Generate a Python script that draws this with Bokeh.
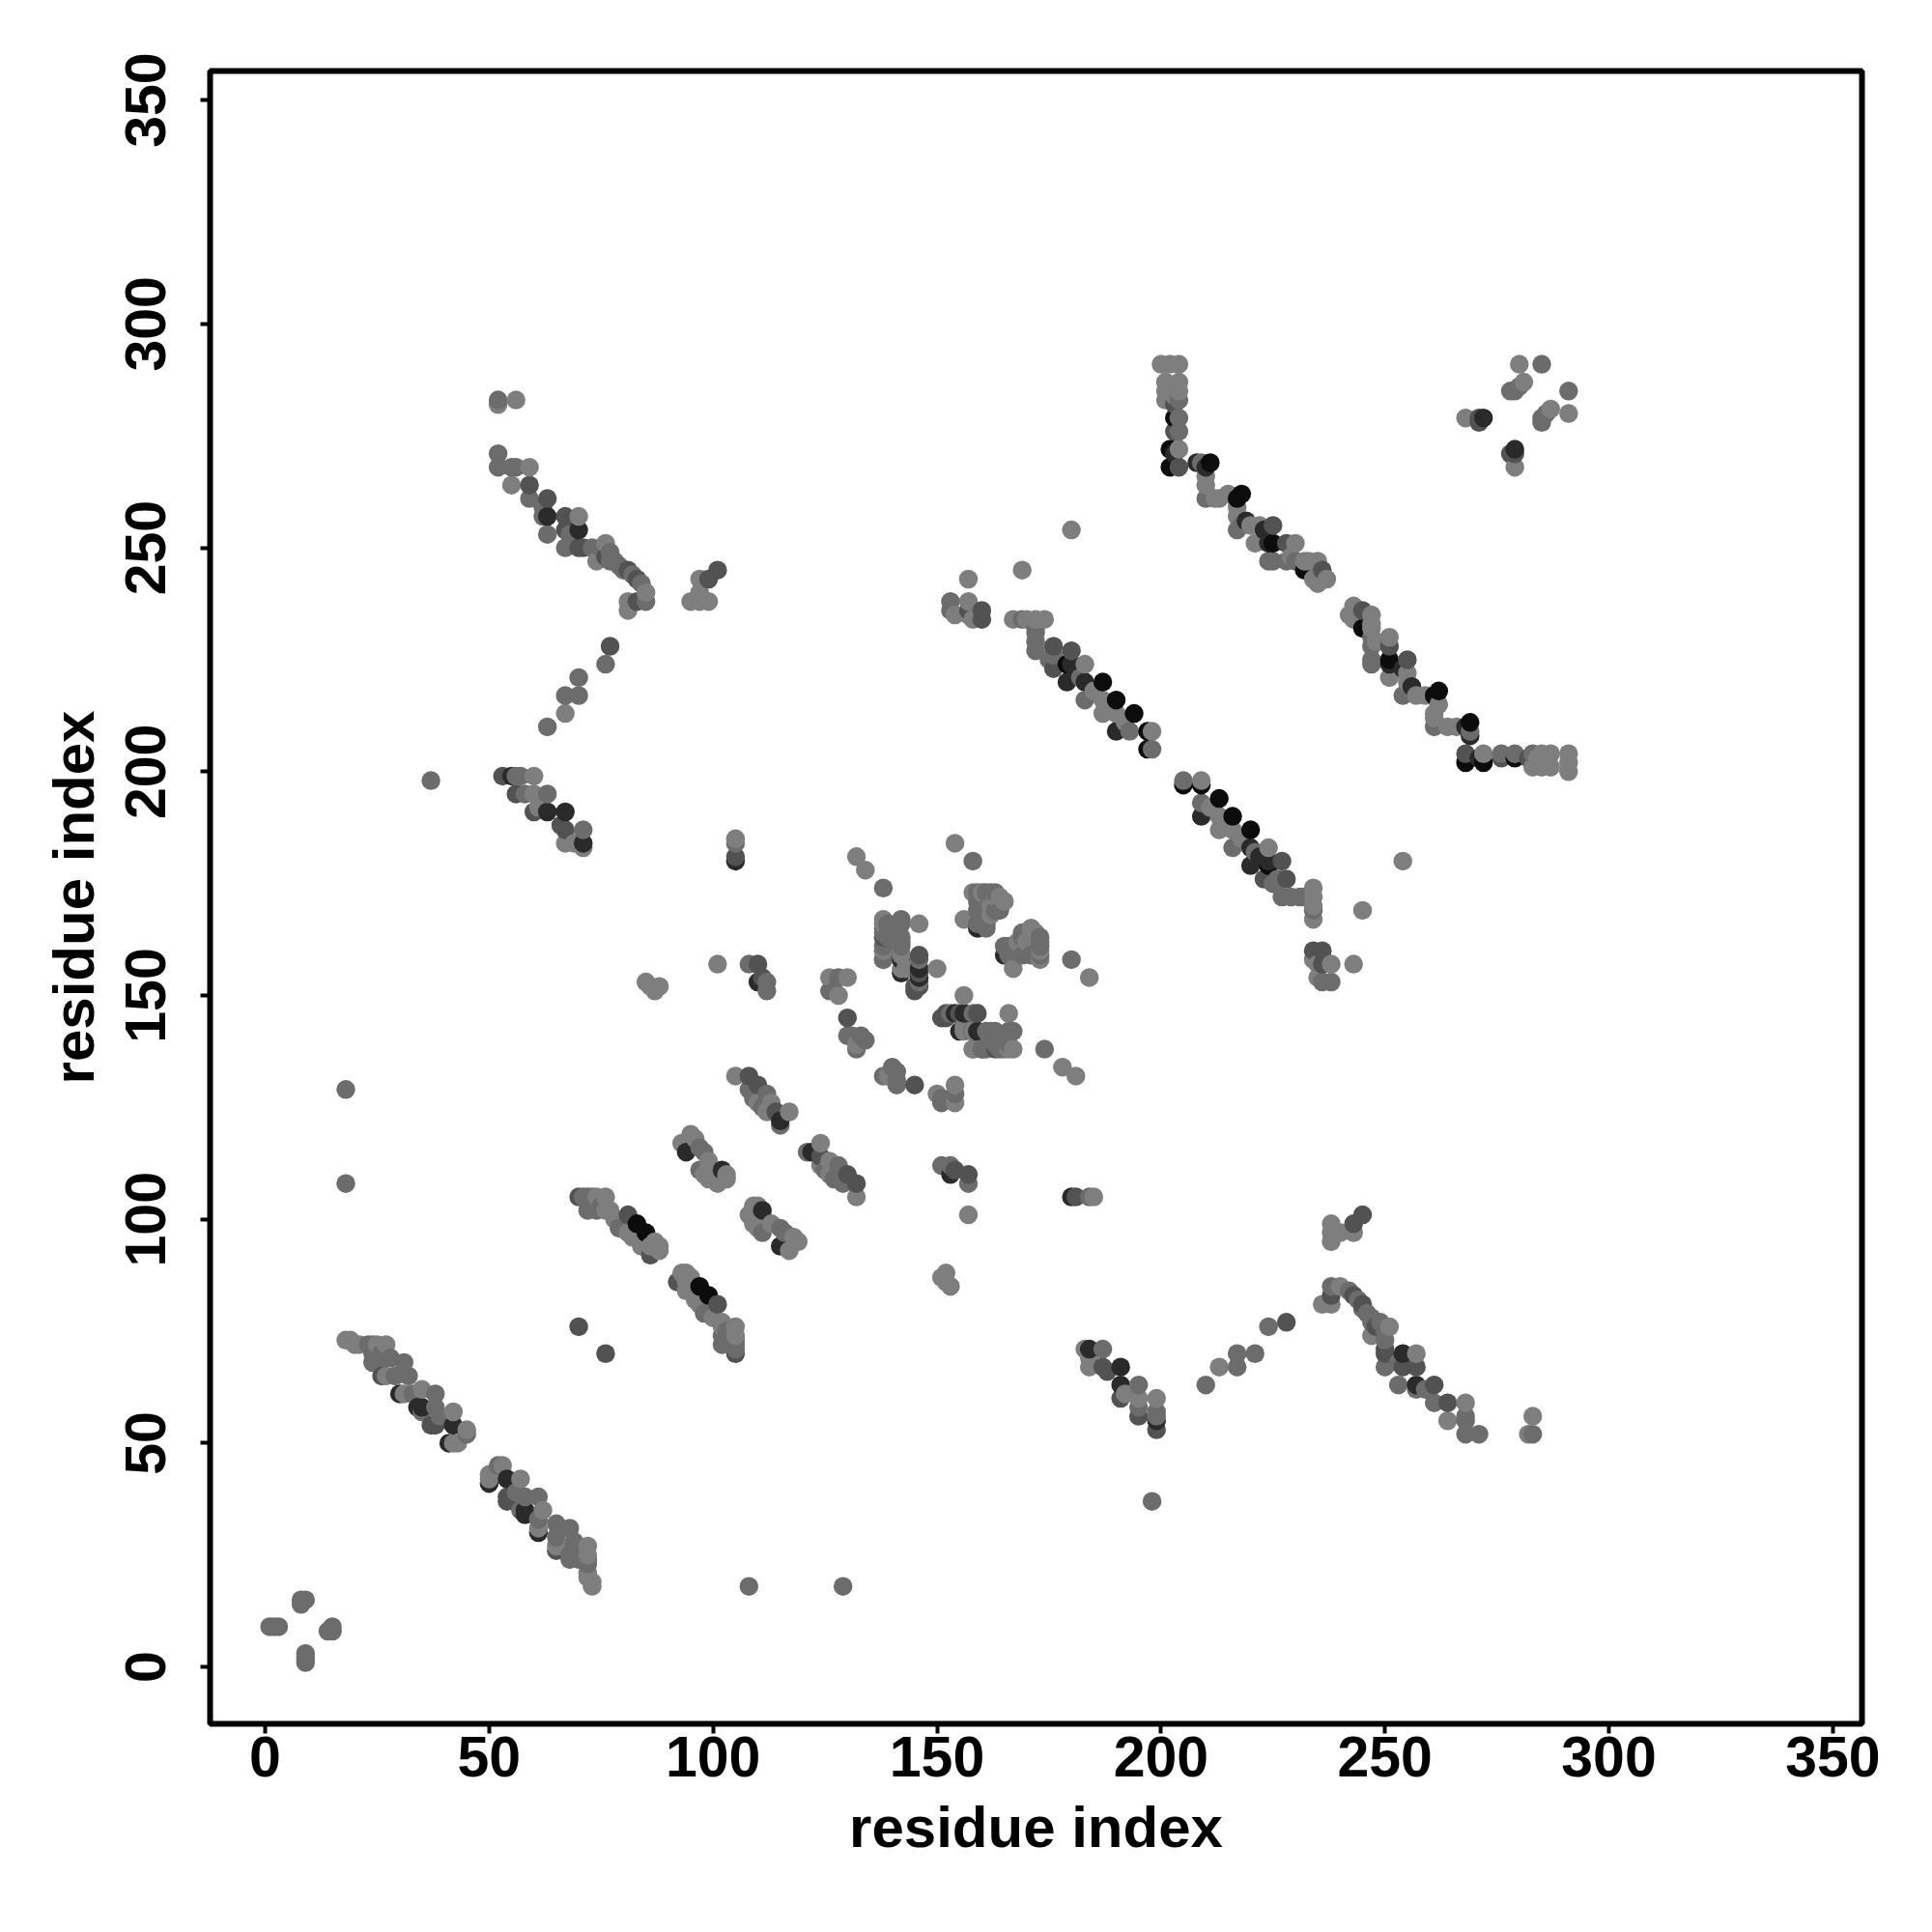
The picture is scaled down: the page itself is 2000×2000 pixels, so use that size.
from bokeh.plotting import figure
from bokeh.embed import file_html
from bokeh.resources import INLINE
from bokeh.models import FixedTicker

# shade of each contact (grey level)
L, M, D, K, B = 126, 108, 82, 42, 12

# contacts above the diagonal as (residue i, residue j, grey level)
cross_corner = [(1,9,M),(2,9,M),(3,9,M),(8,14,M),(8,15,M),(9,15,M),
                (268,279,L),(271,278,D),(271,279,D),(272,279,K),(278,285,M),(279,285,M),(280,286,M),(281,287,L),
                (280,291,L),(285,291,M)]
sheet_18_73 = [(18,73,L),(19,73,L),(20,72,L),(21,72,L),(23,72,M),(24,72,M),(25,72,L),(27,72,L),
               (24,70,M),(26,70,M),(24,68,M),(25,68,M),(27,69,M),(28,69,M),(31,68,M),(26,65,D),(27,65,L),(29,65,M),
               (32,65,M),(30,61,K),(31,61,L),(33,61,M),(35,62,L),(38,61,M),(34,58,K),(35,57,M),(35,58,K),
               (37,54,D),(38,58,M),(38,54,D),(39,56,M),(42,57,L),(42,54,K),(45,53,L),(45,52,M),(41,50,K),(42,50,L),(43,50,L)]
sheet_52_85 = [(52,282,L),(52,283,M),(56,283,L),(52,271,M),(52,268,M),(55,268,M),(56,268,M),(59,268,L),
               (55,264,L),(59,264,D),(59,261,M),(63,261,D),(62,259,M),(62,257,M),(63,257,K),(67,257,D),(70,257,L),
               (63,253,M),(67,254,D),(68,253,M),(70,254,K),(67,250,M),(70,250,D),(71,250,D),(73,250,M),(75,250,M),
               (76,251,L),(77,249,M),(74,247,L),(76,248,D),(77,247,M),(78,247,M),(79,246,M),(80,245,M),(81,245,D),
               (82,244,M),(83,243,D),(84,242,M),(85,240,L),(85,238,M),(83,238,D),(81,238,L),(81,236,L)]
patch_95_101 = [(95,238,L),(97,238,L),(99,238,L),(97,240,L),(97,243,L),(99,243,D),(101,245,D)]
strand_63_77 = [(63,210,M),(67,213,L),(67,217,M),(70,217,M),(70,221,M),(76,224,M),(77,228,D)]
sheet_53_71 = [(53,199,D),(55,199,K),(56,199,M),(57,199,M),(60,199,L),(56,195,D),(58,195,M),(60,195,L),(63,195,M),
               (60,191,D),(61,192,L),(63,191,K),(67,191,K),(66,188,D),(67,187,D),(71,187,M),(67,184,L),(69,184,L),
               (71,184,K),(71,183,L)]
isolated = [(18,108,M),(18,129,M),(37,198,M),(70,76,D),(76,70,D),(105,180,K),(105,181,D),(105,184,M),(105,185,L),
            (132,181,L),(134,178,L),(138,174,M),(154,184,L),(158,180,M),(169,245,L),(180,254,L)]
sheet_70_105 = [(70,105,D),(71,105,M),(72,105,M),(73,105,M),(74,105,L),(76,105,L),(72,102,M),(74,102,M),(75,103,M),
                (76,102,L),(77,102,L),(78,100,L),(79,98,M),(81,101,D),(81,97,L),(83,99,B),(82,96,L),
                (85,97,B),(84,94,L),(86,92,D),(86,94,L),(87,95,L),(88,94,L),(88,93,L)]
sheet_93_119 = [(93,117,L),(95,119,L),(96,118,L),(94,115,K),(97,116,M),(98,115,M),(99,113,L),(97,111,M),
                (98,110,L),(99,110,L),(99,109,L),(100,109,L),(101,108,L),(102,111,K),(103,110,L),(103,109,L)]
sheet_105_132 = [(105,132,L),(108,132,D),(110,130,D),(108,129,M),(109,127,M),(110,126,L),(111,125,M),(112,128,M),
                 (112,124,L),(113,126,L),(114,124,D),(115,122,K),(115,121,M),(117,124,L)]
patch_85_112 = [(85,153,L),(86,152,L),(87,151,L),(88,152,L),(101,157,L),(108,157,M),(110,157,D),(110,153,K),
                (111,154,D),(112,153,M),(112,151,M)]
cluster_126 = [(126,154,L),(128,154,M),(130,154,L),(126,151,M),(128,150,L),(127,151,M),(130,145,D),(130,141,M),
               (131,141,M),(133,141,M),(134,140,M),(132,138,M),(139,132,L)]
cluster_138 = [(138,167,L),(139,166,M),(142,167,M),(146,166,L),(138,165,M),(138,164,M),(139,163,M),(142,162,M),(142,163,M),
               (138,161,M),(138,160,M),(138,158,M),(142,158,K),(142,159,L),(146,159,D),(150,156,L),(146,156,K),
               (142,155,K),(143,156,L),(146,152,D),(145,151,D),(146,153,M),(151,145,D),(152,145,D),(155,146,D),(154,146,K),
               (156,150,L),(158,146,M),(155,142,K),(156,142,L),(158,142,L),(159,142,K),(161,142,M),
               (158,138,L),(160,138,L),(161,138,M),(163,138,D),(164,139,M),(165,138,M),(166,138,L),(166,142,M),(166,146,L)]
cluster_155 = [(156,167,L),(158,173,L),(159,173,M),(160,173,L),(161,173,M),(162,173,M),(163,172,L),(164,172,L),(165,171,M),
               (159,171,M),(160,170,M),(162,170,L),(163,169,M),(159,169,M),(160,168,M),(161,167,M),(159,166,M),(159,165,K),
               (161,165,M),(165,159,K),(166,161,M),(167,156,L),(167,160,M),(168,162,L),(169,164,M),(169,159,M),(170,160,M),
               (171,165,L),(172,164,L),(173,163,M),(173,162,M),(173,158,L)]
patch_153_160 = [(153,238,M),(153,236,M),(154,235,L),(157,243,L),(157,238,L),(157,235,L),(158,234,L),(157,236,D),
                 (160,236,D),(160,234,D)]
sheet_167_199 = [(167,234,L),(169,234,M),(170,234,L),(172,234,L),(174,234,L),(172,232,M),(172,231,M),(172,229,M),(172,227,M),
                 (176,228,D),(175,225,M),(176,223,D),(176,226,M),(179,224,B),(179,220,K),(180,227,D),(180,224,K),(183,224,L),
                 (181,222,K),(182,221,M),(183,220,K),(183,216,M),(185,218,L),(187,220,B),(187,216,L),(187,213,L),
                 (190,216,B),(190,213,L),(190,209,K),(192,211,L),(193,209,M),(194,213,B),(197,209,B),(197,205,B),(198,209,L),(198,205,M)]
sheet_200_237 = [(200,291,L),(202,291,L),(204,291,L),(201,287,L),(201,285,L),(201,283,L),(202,286,L),(203,284,L),(204,287,L),(204,285,L),
                 (203,282,D),(204,283,M),(203,279,B),(204,279,M),(203,276,D),(204,276,M),(202,272,B),(203,271,K),(204,272,L),(202,268,B),(204,268,D),
                 (208,269,K),(209,269,M),(210,268,K),(211,269,B),(210,266,L),(210,264,L),(210,261,M),(212,261,L),(213,261,L),
                 (215,262,L),(217,261,B),(218,262,B),(217,259,L),(217,257,L),(217,254,M),(218,255,M),(220,255,L),(219,256,K),
                 (221,251,L),(222,255,L),(223,254,K),(225,255,D),(224,251,K),(225,251,B),(224,247,M),(225,247,M),(228,251,D),
                 (230,251,L),(228,247,M),(229,248,L),(230,247,M),(232,245,B),(232,247,L),(233,247,L),(235,247,L),(236,245,D),
                 (234,243,L),(235,242,L),(236,243,L),(237,243,L)]

# every contact appears on both sides of the diagonal
contacts = (cross_corner + sheet_18_73 + sheet_52_85 + patch_95_101 + strand_63_77 + sheet_53_71 + isolated +
            sheet_70_105 + sheet_93_119 + sheet_105_132 + patch_85_112 + cluster_126 + cluster_138 + cluster_155 +
            patch_153_160 + sheet_167_199 + sheet_200_237)
both = sorted(set(contacts + [(j, i, g) for i, j, g in contacts]), key=lambda c: (c[0], c[1]))
xs = [c[0] for c in both]
ys = [c[1] for c in both]
colors = ["#%02x%02x%02x" % (c[2], c[2], c[2]) for c in both]

tick_values = [0, 50, 100, 150, 200, 250, 300, 350]

p = figure(frame_width=1710, frame_height=1711, x_range=(-12.3, 356.5), y_range=(-12.7, 356.5),
           output_backend="svg", toolbar_location=None,
           min_border_left=217, min_border_top=73, min_border_right=50, min_border_bottom=190,
           background_fill_color="white", border_fill_color="white")
p.grid.visible = False
p.outline_line_color = "black"
p.outline_line_width = 6
p.scatter(xs, ys, size=19.5, marker="circle", fill_color=colors, line_color=None)

for ax in (p.xaxis[0], p.yaxis[0]):
    ax.ticker = FixedTicker(ticks=tick_values)
    ax.axis_line_color = None
    ax.major_tick_line_color = "black"
    ax.major_tick_line_width = 4
    ax.major_tick_in = 0
    ax.major_tick_out = 10
    ax.minor_tick_line_color = None
    ax.major_label_text_font = "Liberation Sans"
    ax.major_label_text_font_style = "bold"
    ax.major_label_text_font_size = "59px"
    ax.major_label_text_color = "black"
    ax.axis_label = "residue index"
    ax.axis_label_text_font = "Liberation Sans"
    ax.axis_label_text_font_style = "bold"
    ax.axis_label_text_font_size = "60px"
    ax.axis_label_text_color = "black"
p.xaxis[0].major_label_standoff = 3
p.xaxis[0].axis_label_standoff = 16
p.yaxis[0].major_label_standoff = 36
p.yaxis[0].major_label_orientation = "vertical"
p.yaxis[0].axis_label_standoff = 18

open("out.html", "w").write(file_html(p, INLINE))
